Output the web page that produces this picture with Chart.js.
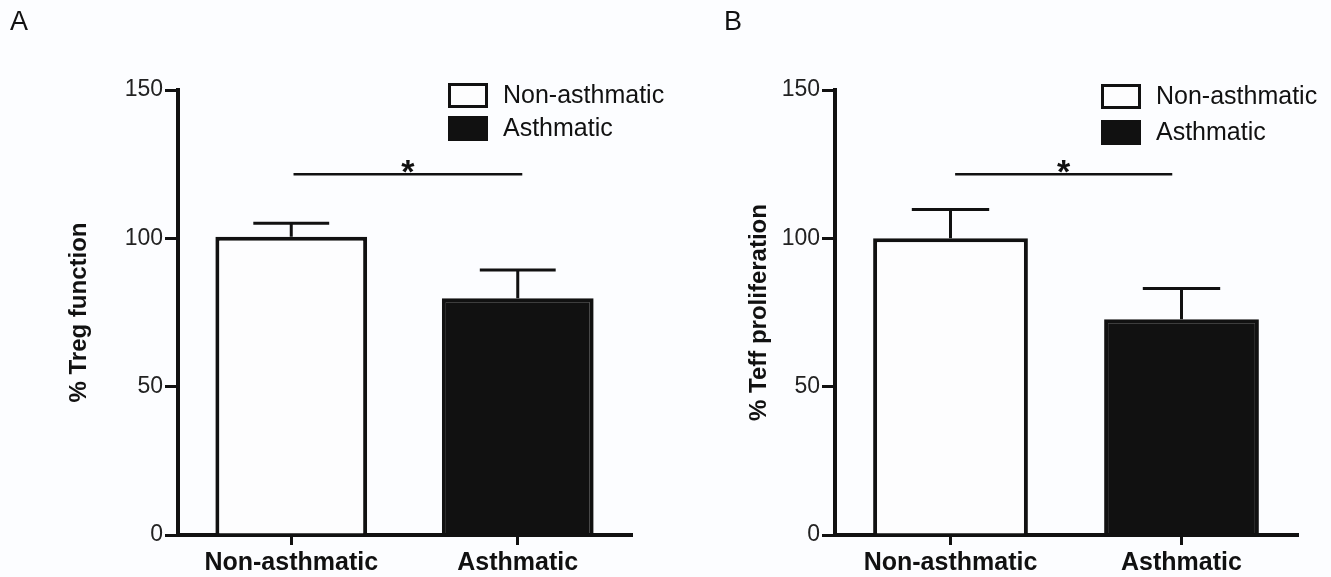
<!DOCTYPE html>
<html>
<head>
<meta charset="utf-8">
<script src="https://cdn.jsdelivr.net/npm/chart.js@4.4.0/dist/chart.umd.min.js"></script>
<style>
html, body { margin: 0; padding: 0; background: #fcfdff; }
#wrap { position: relative; width: 1331px; height: 577px; overflow: hidden; font-family: "Liberation Sans", Arial, sans-serif; }
.panel { position: absolute; top: 0; height: 577px; }
.letter { position: absolute; top: 6px; font-size: 27px; color: #111; line-height: 1.15; }
</style>
</head>
<body>
<div id="wrap">
  <div class="panel" style="left:0;width:665px"><canvas id="chartA"></canvas></div>
  <div class="panel" style="left:665px;width:666px"><canvas id="chartB"></canvas></div>
  <div class="letter" style="left:10px">A</div>
  <div class="letter" style="left:724px">B</div>
</div>
<script>
const categories = ["Non-asthmatic", "Asthmatic"];
const tregValues = [100.5, 79.8];
const tregErrors = [4.6, 9.5];
const teffValues = [100, 72.7];
const teffErrors = [9.7, 10.4];
const sigLevels = [121.6, 121.6];
const yTitles = ["% Treg function", "% Teff proliferation"];
const yMin = 0, yMax = 150, yStep = 50;

const FONT = "'Liberation Sans', Arial, sans-serif";
const INK = "#111";

// error bars, significance bracket and the legend box
const extras = {
  id: "extras",
  afterDatasetsDraw(chart, args, opts) {
    const ctx = chart.ctx;
    const x = chart.scales.x, y = chart.scales.y;
    const meta = chart.getDatasetMeta(0);
    const ds = chart.data.datasets[0];
    ctx.save();
    ctx.strokeStyle = INK;
    ctx.lineWidth = 3;
    meta.data.forEach((bar, i) => {
      const top = y.getPixelForValue(ds.data[i] + opts.errors[i]);
      const half = bar.width / 4;
      ctx.beginPath();
      ctx.moveTo(bar.x, bar.y);
      ctx.lineTo(bar.x, top);
      ctx.moveTo(bar.x - half, top);
      ctx.lineTo(bar.x + half, top);
      ctx.stroke();
    });

    const sy = y.getPixelForValue(opts.sig);
    const x0 = x.getPixelForValue(opts.sigFrom), x1 = x.getPixelForValue(opts.sigTo);
    ctx.lineWidth = 2.5;
    ctx.beginPath(); ctx.moveTo(x0, sy); ctx.lineTo(x1, sy); ctx.stroke();
    ctx.fillStyle = INK;
    ctx.font = "bold 34px " + FONT;
    ctx.textAlign = "center";
    ctx.textBaseline = "alphabetic";
    ctx.fillText("*", (x0 + x1) / 2, sy + 9);

    const lx = chart.chartArea.left + opts.legendX;
    const ly = chart.chartArea.top + opts.legendY;
    chart.data.labels.forEach((lab, i) => {
      const by = ly + i * opts.legendGap;
      ctx.fillStyle = ds.backgroundColor[i];
      ctx.fillRect(lx, by, 40, 25);
      ctx.lineWidth = 3;
      ctx.strokeRect(lx + 1.5, by + 1.5, 37, 22);
      ctx.fillStyle = INK;
      ctx.font = "25px " + FONT;
      ctx.textAlign = "left";
      ctx.textBaseline = "middle";
      ctx.fillText(lab, lx + 55, by + 13);
    });
    ctx.restore();
  }
};

function makeChart(id, values, errors, sig, title, p) {
  return new Chart(document.getElementById(id), {
    type: "bar",
    data: {
      labels: categories,
      datasets: [{
        data: values,
        backgroundColor: ["#fdfdfe", INK],
        borderColor: INK,
        borderWidth: 4,
        barPercentage: 0.67,
        categoryPercentage: 1
      }]
    },
    options: {
      responsive: true,
      maintainAspectRatio: false,
      animation: false,
      layout: { padding: { top: 90, right: 34, bottom: 0, left: 0 } },
      plugins: {
        legend: { display: false },
        tooltip: { enabled: false },
        extras: { errors, sig, sigFrom: p.sigFrom, sigTo: p.sigTo, legendX: p.legendX, legendY: p.legendY, legendGap: p.legendGap }
      },
      scales: {
        x: {
          afterFit: s => { s.height = 42; },
          grid: { display: true, drawOnChartArea: false, offset: false, tickLength: 10, lineWidth: 3, color: INK },
          border: { color: INK, width: 4 },
          ticks: { color: INK, padding: 3, font: { family: FONT, size: 25, weight: "bold" } }
        },
        y: {
          min: yMin, max: yMax,
          afterFit: s => { s.width = p.yWidth; },
          grid: { display: true, drawOnChartArea: false, tickLength: 13, lineWidth: 3, color: INK },
          border: { color: INK, width: 4 },
          ticks: { stepSize: yStep, color: "#222", padding: 2, font: { family: FONT, size: 23 } },
          title: { display: true, text: title, color: INK, padding: { top: p.titlePad, bottom: 0 }, font: { family: FONT, size: 24, weight: "bold" } }
        }
      }
    },
    plugins: [extras]
  });
}

makeChart("chartA", tregValues, tregErrors, sigLevels[0], yTitles[0],
  { yWidth: 178, titlePad: 65, sigFrom: 0.01, sigTo: 1.02, legendX: 270, legendY: -7, legendGap: 33 });
makeChart("chartB", teffValues, teffErrors, sigLevels[1], yTitles[1],
  { yWidth: 170, titlePad: 80, sigFrom: 0.02, sigTo: 0.96, legendX: 266, legendY: -6, legendGap: 36 });
</script>
</body>
</html>
